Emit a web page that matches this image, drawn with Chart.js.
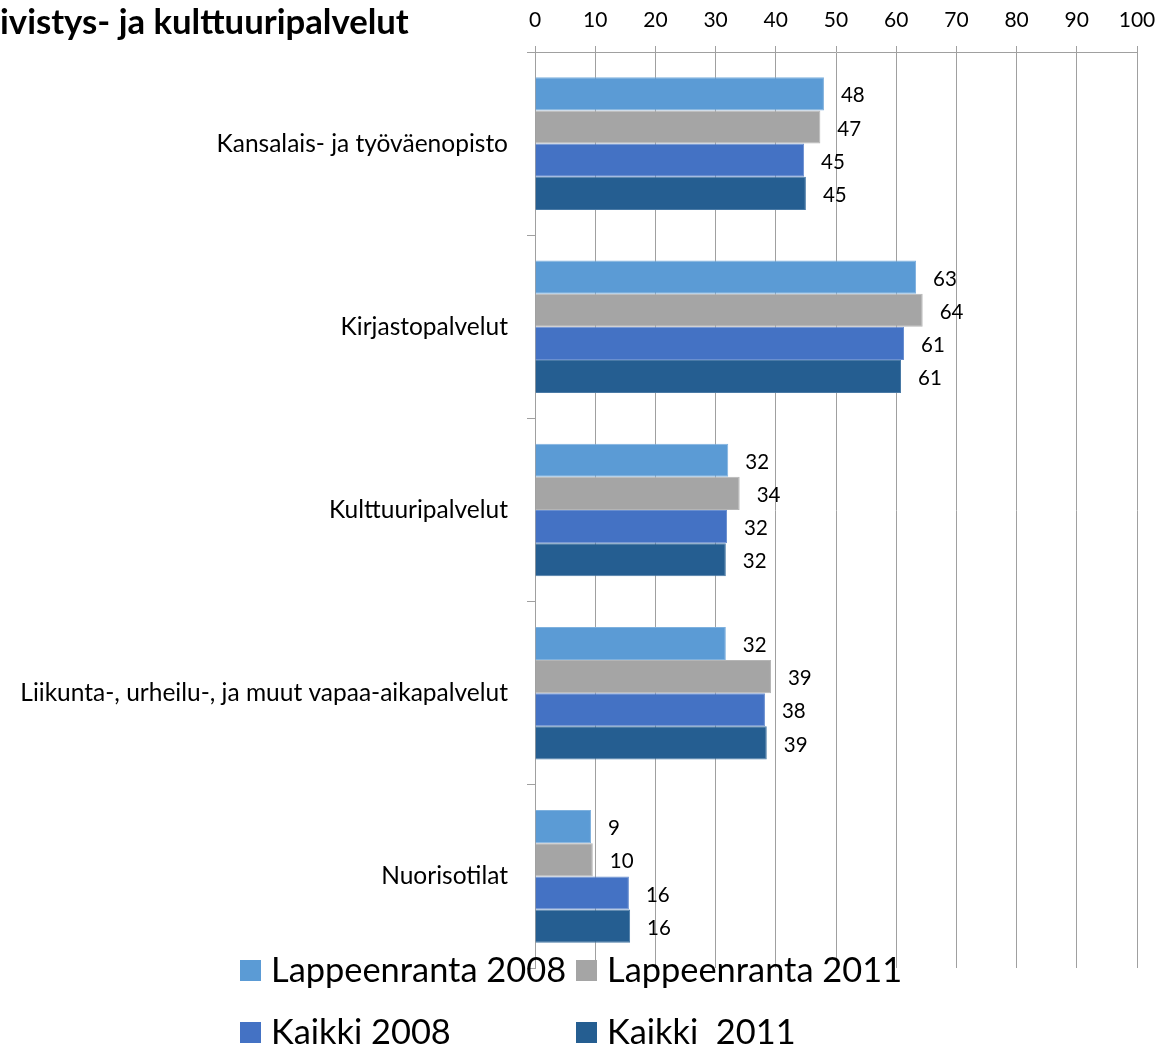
<!DOCTYPE html>
<html>
<head>
<meta charset="utf-8">
<script src="https://cdn.jsdelivr.net/npm/chart.js@4/dist/chart.umd.min.js"></script>
<style>
  html, body { margin: 0; padding: 0; background: #ffffff; }
  canvas { display: block; }
</style>
</head>
<body>
<canvas id="palvelutChart" width="1160" height="1045"></canvas>
<script>
// Kategoriat ja sarjat
const kategoriat = [
    'Kansalais- ja työväenopisto',
    'Kirjastopalvelut',
    'Kulttuuripalvelut',
    'Liikunta-, urheilu-, ja muut vapaa-aikapalvelut',
    'Nuorisotilat'
];
const lappeenranta2008 = [48.0, 63.3, 32.1, 31.7, 9.3];
const lappeenranta2011 = [47.4, 64.4, 34.0, 39.2, 9.6];
const kaikki2008 = [44.7, 61.3, 31.9, 38.2, 15.6];
const kaikki2011 = [45.0, 60.8, 31.7, 38.5, 15.8];
const sarjaNimet = ['Lappeenranta 2008', 'Lappeenranta 2011', 'Kaikki 2008', 'Kaikki  2011'];
const otsikko = 'ivistys- ja kulttuuripalvelut';

const fontti = 'Lato';
const harmaa = '#a0a0a0';

const varit = ['#5b9bd5', '#a5a5a5', '#4472c4', '#255e91'];
const reunat = ['#7fb1de', '#b5b5b5', '#6a8fd0', '#4a7aa6'];

// Arvot palkkien perään
const arvoPlugin = {
    id: 'arvot',
    afterDatasetsDraw(chart) {
        const ctx = chart.ctx;
        ctx.save();
        ctx.font = '20.5px ' + fontti;
        ctx.fillStyle = '#000000';
        ctx.textAlign = 'left';
        ctx.textBaseline = 'middle';
        chart.data.datasets.forEach((ds, i) => {
            const meta = chart.getDatasetMeta(i);
            meta.data.forEach((bar, j) => {
                ctx.fillText(String(Math.round(ds.data[j])), bar.x + 17, bar.y + 2);
            });
        });
        ctx.restore();
    }
};

// Otsikko ja selite omilla paikoillaan
const koristePlugin = {
    id: 'koriste',
    afterDraw(chart) {
        const ctx = chart.ctx;
        ctx.save();
        ctx.fillStyle = '#000000';
        ctx.font = 'bold 34.7px ' + fontti;
        ctx.textAlign = 'left';
        ctx.textBaseline = 'middle';
        ctx.fillText(otsikko, 0, 23);

        const paikat = [[240, 970], [576, 970], [240, 1032], [576, 1032]];
        ctx.font = '34.4px ' + fontti;
        chart.data.datasets.forEach((ds, i) => {
            const p = paikat[i];
            ctx.fillStyle = ds.backgroundColor;
            ctx.fillRect(p[0], p[1] - 10, 21, 21);
            ctx.fillStyle = '#000000';
            ctx.fillText(ds.label, p[0] + 31, p[1] + 1);
        });
        ctx.restore();
    }
};

const sarjat = [lappeenranta2008, lappeenranta2011, kaikki2008, kaikki2011];

new Chart(document.getElementById('palvelutChart').getContext('2d'), {
    type: 'bar',
    data: {
        labels: kategoriat,
        datasets: sarjat.map((arvot, i) => ({
            label: sarjaNimet[i],
            data: arvot,
            backgroundColor: varit[i],
            borderColor: reunat[i],
            borderWidth: 1,
            categoryPercentage: 0.724,
            barPercentage: 1.0
        }))
    },
    options: {
        indexAxis: 'y',
        responsive: false,
        animation: false,
        devicePixelRatio: 1,
        layout: {
            padding: { left: 0, top: 0, right: 23, bottom: 77 }
        },
        scales: {
            x: {
                position: 'top',
                min: 0,
                max: 100,
                ticks: {
                    stepSize: 10,
                    padding: 13,
                    color: '#000000',
                    font: { family: fontti, size: 21 }
                },
                grid: {
                    color: harmaa,
                    lineWidth: 1,
                    tickLength: 6
                },
                border: { color: harmaa, width: 1 },
                afterFit(scale) {
                    scale.height = 52;
                    scale.paddingLeft = 0;
                    scale.paddingRight = 0;
                }
            },
            y: {
                ticks: {
                    padding: 19,
                    color: '#000000',
                    font: { family: fontti, size: 24.5 }
                },
                grid: {
                    offset: true,
                    drawOnChartArea: false,
                    color: harmaa,
                    tickLength: 8
                },
                border: { color: harmaa, width: 1 },
                afterFit(scale) {
                    scale.width = 535;
                    scale.paddingTop = 0;
                    scale.paddingBottom = 0;
                }
            }
        },
        plugins: {
            legend: { display: false },
            title: { display: false },
            tooltip: { enabled: false }
        }
    },
    plugins: [arvoPlugin, koristePlugin]
});
</script>
</body>
</html>
